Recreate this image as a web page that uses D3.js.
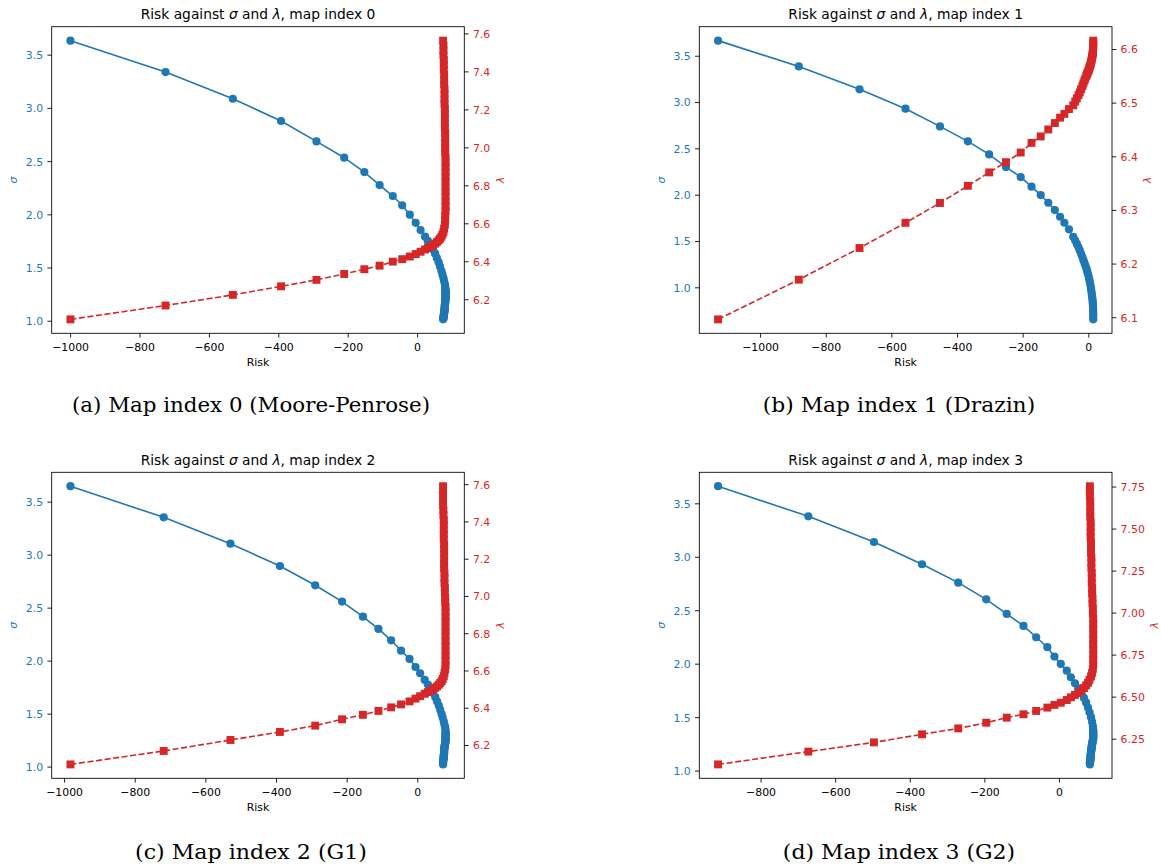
<!DOCTYPE html>
<html>
<head>
<meta charset="utf-8">
<script src="https://cdn.jsdelivr.net/npm/d3@7"></script>
<style>
  html, body { margin: 0; padding: 0; background: #fff; }
  svg { display: block; }
</style>
</head>
<body>
<svg id="fig" width="1161" height="867"></svg>
<script>
// ---- Sweep results: risk, sigma and lambda for each generalised-inverse map ----
const riskMap0 = [-999,-725,-531,-392,-290,-210,-152,-108,-70,-43,-21,-4,10,23,
  31,39,46,52,57,62,66,70,73,76,78,80,81,
  81,82,82,82,82,82,82,82,82,82,82,82,82,81,81,81,81,81,80,80,80,80,80,79,79,79,79,78,78,78,77,77,77,76,76,76,75];
const sigmaMap0 = [3.632,3.337,3.086,2.877,2.685,2.532,2.397,2.275,2.172,2.085,1.997,1.920,1.852,1.790,
  1.750,1.710,1.670,1.630,1.590,1.550,1.510,1.470,1.435,1.400,1.370,1.345,1.320,
  1.300,1.291,1.283,1.275,1.266,1.258,1.250,1.242,1.234,1.226,1.218,1.210,1.202,1.194,1.186,1.178,1.170,1.162,1.154,1.146,
  1.138,1.130,1.122,1.114,1.106,1.098,1.090,1.082,1.074,1.066,1.058,1.050,1.042,1.035,1.028,1.020,1.013];
const lambdaMap0 = [6.094,6.167,6.223,6.268,6.302,6.333,6.358,6.377,6.398,6.411,6.425,6.438,6.450,6.462,
  6.470,6.477,6.485,6.493,6.501,6.510,6.519,6.529,6.541,6.555,6.572,6.592,6.615,
  6.640,6.665,6.691,6.716,6.742,6.768,6.793,6.819,6.845,6.870,6.896,6.921,6.947,6.973,6.998,7.024,7.049,7.075,7.101,7.126,
  7.152,7.177,7.203,7.229,7.254,7.280,7.305,7.331,7.357,7.382,7.408,7.433,7.459,7.485,7.510,7.536,7.562];

const riskMap1 = [-1128,-882,-697,-557,-452,-367,-302,-251,-206,-173,-145,-122,-102,-86,-73,-59,-46,
  -40,-35,-30,-26,-22,-18,-15,-12,-9,-6,-4,-2,0,2,3.5,5,6.5,8,9,10,11,12,12.8,13.4,13.9,14.3,14.6,14.8,15,15,15];
const sigmaMap1 = [3.663,3.385,3.137,2.928,2.737,2.576,2.435,2.298,2.190,2.086,1.996,1.913,1.834,1.762,1.697,1.626,1.546,
  1.505,1.468,1.432,1.398,1.362,1.325,1.295,1.265,1.235,1.205,1.180,1.155,1.130,1.100,1.075,1.050,1.020,0.990,0.965,0.940,
  0.915,0.890,0.865,0.840,0.815,0.790,0.765,0.738,0.710,0.682,0.654];
const lambdaMap1 = [6.096,6.170,6.229,6.276,6.313,6.345,6.370,6.389,6.407,6.425,6.437,6.450,6.462,6.472,6.479,6.488,6.495,
  6.502,6.508,6.514,6.519,6.525,6.531,6.536,6.541,6.545,6.550,6.553,6.556,6.559,6.562,6.565,6.568,6.571,6.574,6.577,6.580,
  6.583,6.586,6.589,6.592,6.595,6.598,6.601,6.604,6.607,6.611,6.6156];

const riskMap2 = [-982,-718,-529,-389,-289,-213,-154,-110,-74,-46,-22,-5,8,21,
  30,38,45,51,56,61,65,69,72,75,77,79,80,
  80,80,80,80,80,80,80,80,80,80,80,80,79,79,78,78,77,77,77,76,76,76,76,76,76,75,75,75,75,75,74,74,73,73,73,73,73];
const sigmaMap2 = [3.646,3.352,3.104,2.893,2.711,2.557,2.415,2.299,2.192,2.094,2.016,1.940,1.881,1.818,
  1.775,1.735,1.695,1.655,1.615,1.575,1.535,1.495,1.460,1.425,1.395,1.370,1.345,
  1.325,1.317,1.308,1.300,1.291,1.283,1.274,1.266,1.258,1.249,1.241,1.232,1.224,1.215,1.207,1.198,1.190,1.182,1.173,1.165,
  1.156,1.148,1.139,1.131,1.122,1.114,1.106,1.097,1.089,1.080,1.072,1.063,1.055,1.046,1.038,1.029,1.021];
const lambdaMap2 = [6.096,6.168,6.227,6.270,6.304,6.338,6.362,6.383,6.402,6.418,6.434,6.449,6.462,6.475,
  6.484,6.491,6.499,6.507,6.515,6.524,6.533,6.543,6.555,6.569,6.586,6.606,6.629,
  6.654,6.680,6.706,6.732,6.758,6.784,6.810,6.836,6.862,6.888,6.914,6.940,6.966,6.992,7.018,7.044,7.070,7.096,7.122,7.148,
  7.174,7.200,7.226,7.252,7.278,7.304,7.330,7.356,7.382,7.408,7.434,7.460,7.486,7.512,7.538,7.563,7.589];

const riskMap3 = [-914,-672,-496,-367,-270,-195,-140,-95,-61,-31,-12,5,21,32,43,
  52,60,67,73,78,82,86,89,91,
  92,92,92,92,92,92,92,92,92,92,91,91,90,90,89,89,88,88,88,87,87,87,86,86,86,85,85,85,85,84,84,84,84,83,83,83];
const sigmaMap3 = [3.660,3.378,3.138,2.930,2.758,2.602,2.465,2.353,2.247,2.154,2.066,1.998,1.935,1.873,1.817,
  1.770,1.725,1.680,1.635,1.590,1.545,1.500,1.455,1.415,
  1.380,1.371,1.362,1.352,1.343,1.334,1.325,1.316,1.306,1.297,1.288,1.279,1.270,1.260,1.251,1.242,1.233,1.224,1.214,1.205,
  1.196,1.187,1.178,1.168,1.159,1.150,1.141,1.132,1.122,1.113,1.104,1.095,1.086,1.076,1.067,1.058];
const lambdaMap3 = [6.097,6.173,6.228,6.276,6.311,6.345,6.375,6.395,6.415,6.435,6.451,6.464,6.480,6.496,6.510,
  6.522,6.536,6.551,6.567,6.583,6.600,6.620,6.642,6.665,
  6.690,6.720,6.751,6.781,6.811,6.842,6.872,6.902,6.933,6.963,6.993,7.024,7.054,7.084,7.115,7.145,7.175,7.206,7.236,7.266,
  7.297,7.327,7.357,7.388,7.418,7.448,7.479,7.509,7.539,7.570,7.600,7.630,7.661,7.691,7.721,7.752];

// ---- Tick values and labels ----
const riskTicksWide = [-1000, -800, -600, -400, -200, 0];
const riskTicksNarrow = [-800, -600, -400, -200, 0];
const sigmaTicks = [1.0, 1.5, 2.0, 2.5, 3.0, 3.5];
const lambdaTicks0 = [6.2, 6.4, 6.6, 6.8, 7.0, 7.2, 7.4, 7.6];
const lambdaTicks1 = [6.1, 6.2, 6.3, 6.4, 6.5, 6.6];
const lambdaTicks3 = [6.25, 6.5, 6.75, 7.0, 7.25, 7.5, 7.75];
const mapIndices = [0, 1, 2, 3];
const captions = ["(a) Map index 0 (Moore-Penrose)", "(b) Map index 1 (Drazin)",
                  "(c) Map index 2 (G1)", "(d) Map index 3 (G2)"];

// ---- Figure styling ----
const BLUE = "#1f77b4", RED = "#d62728";
const FONT = "DejaVu Sans, sans-serif";
const TICK_FS = 10.9, TITLE_FS = 13.8, TICK_LEN = 4.3, TICK_PAD = 4.3;
const DOT_R = 4.1, SQUARE = 7.9;

const panels = [
  { risk: riskMap0, sigma: sigmaMap0, lambda: lambdaMap0, xTicks: riskTicksWide,   lTicks: lambdaTicks0, lFmt: ".1f" },
  { risk: riskMap1, sigma: sigmaMap1, lambda: lambdaMap1, xTicks: riskTicksWide,   lTicks: lambdaTicks1, lFmt: ".1f" },
  { risk: riskMap2, sigma: sigmaMap2, lambda: lambdaMap2, xTicks: riskTicksWide,   lTicks: lambdaTicks0, lFmt: ".1f" },
  { risk: riskMap3, sigma: sigmaMap3, lambda: lambdaMap3, xTicks: riskTicksNarrow, lTicks: lambdaTicks3, lFmt: ".2f" }
];

// axes boxes and caption placement for the 2x2 grid
const frames = [
  { left: 51.7,  top: 26.7,  width: 412.6, height: 306.6, capX: 251, capY: 412.3, capW: 358 },
  { left: 699.3, top: 26.7,  width: 412.7, height: 306.6, capX: 899, capY: 412.3, capW: 272.3 },
  { left: 51.7,  top: 472.3, width: 412.6, height: 306.0, capX: 251, capY: 859,   capW: 232 },
  { left: 699.3, top: 472.3, width: 412.7, height: 306.0, capX: 899, capY: 859,   capW: 232.3 }
];

const svg = d3.select("#fig");
svg.append("rect").attr("width", 1161).attr("height", 867).attr("fill", "#fff");

// data limits with a 5% margin on each side
function padded(values) {
  const [lo, hi] = d3.extent(values);
  const m = (hi - lo) * 0.05;
  return [lo - m, hi + m];
}

function styleTicks(sel, color) {
  sel.select(".domain").remove();
  sel.attr("font-size", null).attr("font-family", null);
  sel.selectAll(".tick line").attr("stroke", "#000").attr("stroke-width", 0.87);
  sel.selectAll(".tick text")
    .attr("fill", color)
    .attr("font-family", FONT)
    .attr("font-size", TICK_FS);
}

function maxLabelWidth(sel) {
  let w = 0;
  sel.selectAll(".tick text").each(function () { w = Math.max(w, this.getComputedTextLength()); });
  return w;
}

const minus = s => s.replace("-", "\u2212");

panels.forEach((p, k) => {
  const f = frames[k];
  const g = svg.append("g").attr("transform", `translate(${f.left},${f.top})`);
  const idx = d3.range(p.risk.length);

  const x = d3.scaleLinear().domain(padded(p.risk)).range([0, f.width]);
  const ySigma = d3.scaleLinear().domain(padded(p.sigma)).range([f.height, 0]);
  const yLambda = d3.scaleLinear().domain(padded(p.lambda)).range([f.height, 0]);

  // sigma: solid line with circle markers
  g.append("path")
    .attr("d", d3.line().x(i => x(p.risk[i])).y(i => ySigma(p.sigma[i]))(idx))
    .attr("fill", "none").attr("stroke", BLUE).attr("stroke-width", 1.6);
  g.append("g").selectAll("circle").data(idx).join("circle")
    .attr("cx", i => x(p.risk[i])).attr("cy", i => ySigma(p.sigma[i]))
    .attr("r", DOT_R).attr("fill", BLUE);

  // bottom axis (Risk)
  const gx = g.append("g").attr("transform", `translate(0,${f.height})`)
    .call(d3.axisBottom(x).tickValues(p.xTicks).tickFormat(d => minus(d3.format("d")(d)))
      .tickSize(TICK_LEN).tickSizeOuter(0));
  styleTicks(gx, "#000");
  gx.selectAll(".tick text").attr("y", 17.4).attr("dy", null);

  // left axis (sigma)
  const gyl = g.append("g")
    .call(d3.axisLeft(ySigma).tickValues(sigmaTicks).tickFormat(d3.format(".1f"))
      .tickSize(TICK_LEN).tickPadding(TICK_PAD).tickSizeOuter(0));
  styleTicks(gyl, BLUE);
  gyl.selectAll(".tick text").attr("dy", "0.36em");
  const wLeft = maxLabelWidth(gyl);

  // lambda: dashed line with square markers, drawn over the sigma series
  g.append("path")
    .attr("d", d3.line().x(i => x(p.risk[i])).y(i => yLambda(p.lambda[i]))(idx))
    .attr("fill", "none").attr("stroke", RED).attr("stroke-width", 1.6)
    .attr("stroke-dasharray", "6,2.6");
  g.append("g").selectAll("rect").data(idx).join("rect")
    .attr("x", i => x(p.risk[i]) - SQUARE / 2).attr("y", i => yLambda(p.lambda[i]) - SQUARE / 2)
    .attr("width", SQUARE).attr("height", SQUARE).attr("fill", RED);

  // right axis (lambda)
  const gyr = g.append("g").attr("transform", `translate(${f.width},0)`)
    .call(d3.axisRight(yLambda).tickValues(p.lTicks).tickFormat(d3.format(p.lFmt))
      .tickSize(TICK_LEN).tickPadding(TICK_PAD).tickSizeOuter(0));
  styleTicks(gyr, RED);
  gyr.selectAll(".tick text").attr("dy", "0.36em");
  const wRight = maxLabelWidth(gyr);

  // frame
  g.append("rect").attr("width", f.width).attr("height", f.height)
    .attr("fill", "none").attr("stroke", "#000").attr("stroke-width", 0.87);

  // axis labels
  g.append("text")
    .attr("x", f.width / 2).attr("y", f.height + 32.3)
    .attr("text-anchor", "middle").attr("font-family", FONT).attr("font-size", TICK_FS)
    .attr("fill", "#000").text("Risk");

  const sigmaX = -(TICK_LEN + TICK_PAD + wLeft + 11.85);
  g.append("text")
    .attr("transform", `translate(${sigmaX + 3},${f.height / 2}) rotate(-90)`)
    .attr("text-anchor", "middle").attr("font-family", FONT).attr("font-size", TICK_FS)
    .attr("font-style", "italic").attr("fill", BLUE).text("σ");

  const lambdaX = f.width + TICK_LEN + TICK_PAD + wRight + 9.3;
  g.append("text")
    .attr("transform", `translate(${lambdaX + 4.1},${f.height / 2}) rotate(-90)`)
    .attr("text-anchor", "middle").attr("font-family", FONT).attr("font-size", TICK_FS)
    .attr("font-style", "italic").attr("fill", RED).text("λ");

  // title
  const t = g.append("text")
    .attr("x", f.width / 2).attr("y", -7.5)
    .attr("text-anchor", "middle").attr("font-family", FONT).attr("font-size", TITLE_FS)
    .attr("fill", "#000");
  t.append("tspan").text("Risk against ");
  t.append("tspan").attr("font-style", "italic").text("σ");
  t.append("tspan").text(" and ");
  t.append("tspan").attr("font-style", "italic").text("λ");
  t.append("tspan").text(", map index " + mapIndices[k]);

  // sub-figure caption
  svg.append("text")
    .attr("x", f.capX - f.capW / 2).attr("y", f.capY)
    .attr("font-family", "DejaVu Serif, serif").attr("font-size", 19.5)
    .attr("textLength", f.capW).attr("lengthAdjust", "spacingAndGlyphs")
    .attr("fill", "#000").text(captions[k]);
});
</script>
</body>
</html>
